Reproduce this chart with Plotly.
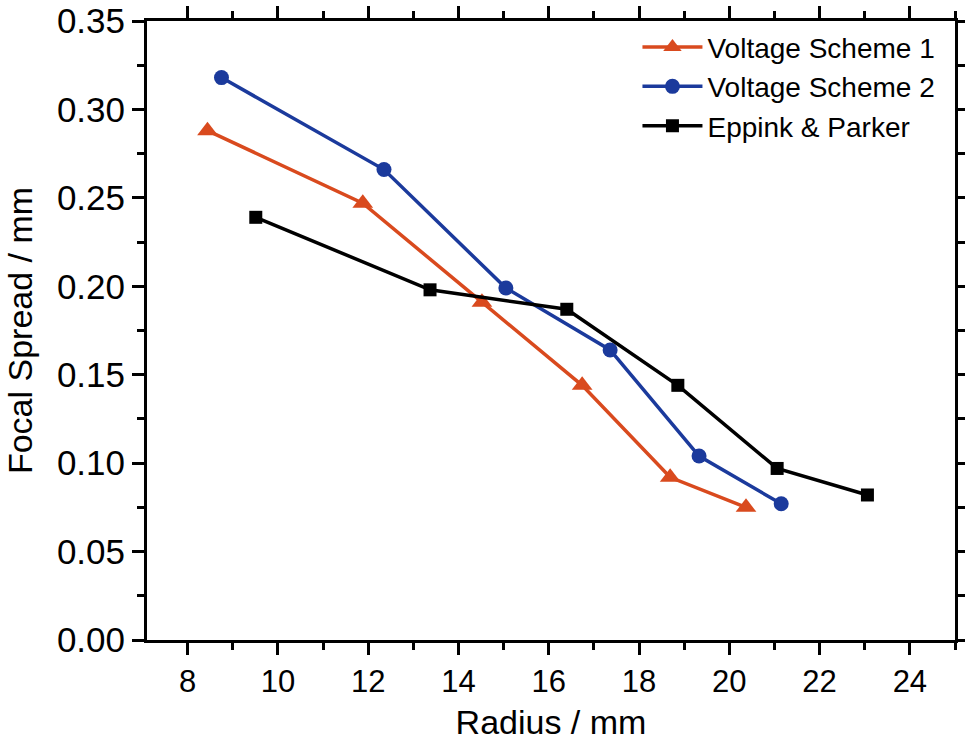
import plotly.graph_objects as go

# Data
vs1_x = [8.44, 11.88, 14.52, 16.74, 18.69, 20.37]
vs1_y = [0.288, 0.247, 0.191, 0.144, 0.092, 0.075]

vs2_x = [8.75, 12.35, 15.05, 17.36, 19.33, 21.15]
vs2_y = [0.318, 0.266, 0.199, 0.164, 0.104, 0.077]

ep_x = [9.51, 13.37, 16.40, 18.86, 21.06, 23.06]
ep_y = [0.239, 0.198, 0.187, 0.144, 0.097, 0.082]

series_names = ["Voltage Scheme 1", "Voltage Scheme 2", "Eppink & Parker"]

x_ticks = [8, 10, 12, 14, 16, 18, 20, 22, 24]
y_ticks = [0.00, 0.05, 0.10, 0.15, 0.20, 0.25, 0.30, 0.35]

FONT = "Liberation Sans, Arial, sans-serif"

fig = go.Figure()
fig.add_trace(go.Scatter(
    x=vs1_x, y=vs1_y, name=series_names[0], mode="lines+markers",
    line=dict(color="#D94A1E", width=3.5),
    marker=dict(symbol="triangle-up", size=18, color="#D94A1E")))
fig.add_trace(go.Scatter(
    x=vs2_x, y=vs2_y, name=series_names[1], mode="lines+markers",
    line=dict(color="#1B3A9C", width=3.5),
    marker=dict(symbol="circle", size=15, color="#1B3A9C")))
fig.add_trace(go.Scatter(
    x=ep_x, y=ep_y, name=series_names[2], mode="lines+markers",
    line=dict(color="#000000", width=3.5),
    marker=dict(symbol="square", size=13, color="#000000")))

fig.update_layout(
    width=965, height=747,
    margin=dict(l=147, r=10, t=21, b=107),
    paper_bgcolor="white", plot_bgcolor="white",
    font=dict(family=FONT, color="black"),
    showlegend=True,
    legend=dict(x=0.982, y=0.998, xanchor="right", yanchor="top",
                bgcolor="rgba(0,0,0,0)", font=dict(size=28, family=FONT),
                tracegroupgap=0, itemwidth=60),
    xaxis=dict(
        range=[7.1, 25.0], tickvals=x_ticks, ticktext=[str(v) for v in x_ticks],
        ticks="outside", ticklen=12, tickwidth=2.5, tickcolor="black",
        showline=True, linecolor="black", linewidth=3, mirror="allticks",
        showgrid=False, zeroline=False, automargin=False,
        tickfont=dict(size=31, family=FONT),
        minor=dict(tickvals=[7, 9, 11, 13, 15, 17, 19, 21, 23, 25], ticks="outside",
                   ticklen=7, tickwidth=2.5, tickcolor="black", showgrid=False),
        title=dict(text="Radius / mm", font=dict(size=34, family=FONT), standoff=12),
    ),
    yaxis=dict(
        range=[0, 0.35], tickvals=y_ticks, ticktext=[f"{v:.2f}" for v in y_ticks],
        ticks="outside", ticklen=12, tickwidth=2.5, tickcolor="black",
        showline=True, linecolor="black", linewidth=3, mirror="allticks",
        showgrid=False, zeroline=False, automargin=False,
        tickfont=dict(size=35, family=FONT),
        minor=dict(dtick=0.025, tick0=0, ticks="outside",
                   ticklen=7, tickwidth=2.5, tickcolor="black", showgrid=False),
        title=dict(text="Focal Spread / mm", font=dict(size=34, family=FONT), standoff=14),
    ),
)

fig.write_html("out.html")
